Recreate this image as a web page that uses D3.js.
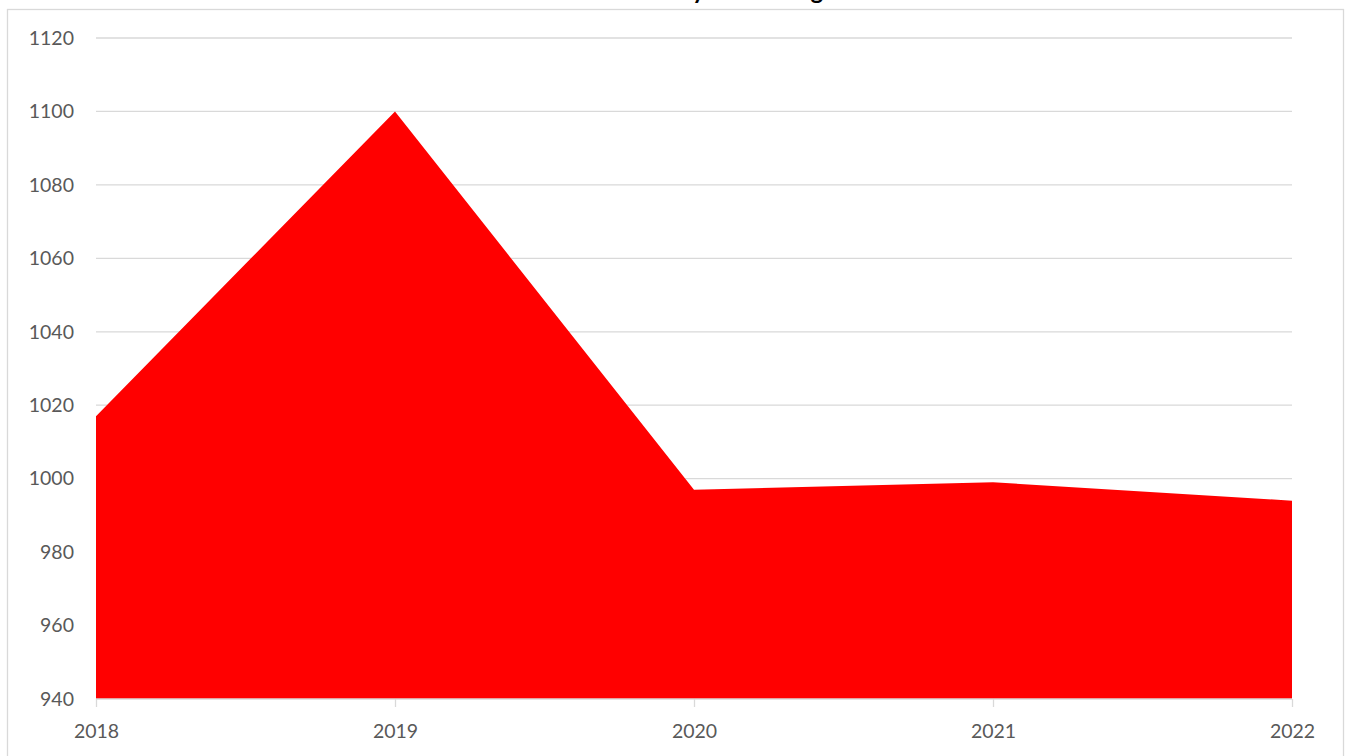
<!DOCTYPE html>
<html>
<head>
<meta charset="utf-8">
<script src="https://cdn.jsdelivr.net/npm/d3@7"></script>
<style>
  body { margin: 0; background: #fff; }
  svg { display: block; }
</style>
</head>
<body>
<div id="chart"></div>
<script>
// data
var years = ["2018", "2019", "2020", "2021", "2022"];
var values = [1017, 1100, 997, 999, 994];
var yTicks = [940, 960, 980, 1000, 1020, 1040, 1060, 1080, 1100, 1120];
var chartTitle = "Annual Electricity Bill Average";

var W = 1346, H = 756;
var plotLeft = 96, plotRight = 1292, plotTop = 38, plotBottom = 699;

var svg = d3.select("#chart").append("svg")
    .attr("width", W)
    .attr("height", H);

// chart frame
svg.append("rect")
    .attr("x", 7.5).attr("y", 9.5)
    .attr("width", 1336).attr("height", 760)
    .attr("fill", "none")
    .attr("stroke", "#d9d9d9")
    .attr("stroke-width", 1.3);

// title sits mostly above the frame, only descenders show
svg.append("text")
    .attr("x", 676).attr("y", -1.5)
    .attr("text-anchor", "middle")
    .attr("font-family", "Lato, 'Open Sans', sans-serif")
    .attr("font-weight", "bold")
    .attr("font-size", "24px")
    .attr("fill", "#000")
    .text(chartTitle);

var x = d3.scalePoint().domain(years).range([plotLeft, plotRight]);
var y = d3.scaleLinear().domain([940, 1120]).range([plotBottom, plotTop]);

// gridlines
svg.append("g").selectAll("line")
    .data(yTicks.filter(function(d) { return d !== 940; }))
    .enter().append("line")
    .attr("x1", plotLeft).attr("x2", plotRight)
    .attr("y1", function(d) { return y(d); })
    .attr("y2", function(d) { return y(d); })
    .attr("stroke", "#d9d9d9")
    .attr("stroke-width", 1.3);

// area
var area = d3.area()
    .x(function(d, i) { return x(years[i]); })
    .y0(y(940))
    .y1(function(d) { return y(d); });

svg.append("path")
    .datum(values)
    .attr("d", area)
    .attr("fill", "#ff0000");

// y axis labels
var yAxis = d3.axisLeft(y).tickValues(yTicks).tickFormat(d3.format("d"))
    .tickSize(0).tickPadding(22);
var gy = svg.append("g")
    .attr("transform", "translate(" + plotLeft + ",0)")
    .call(yAxis);
gy.select(".domain").remove();
gy.selectAll("text")
    .attr("font-family", "Lato, 'Open Sans', sans-serif")
    .attr("font-size", "19.5px")
    .attr("fill", "#595959");

// x axis
var xAxis = d3.axisBottom(x).tickSize(8).tickPadding(17);
var gx = svg.append("g")
    .attr("transform", "translate(0," + plotBottom + ")")
    .call(xAxis);
gx.select(".domain")
    .attr("d", "M" + plotLeft + ",0H" + plotRight)
    .attr("stroke", "#d9d9d9")
    .attr("stroke-width", 1.3);
gx.selectAll(".tick line")
    .attr("stroke", "#d9d9d9")
    .attr("stroke-width", 1.3);
gx.selectAll("text")
    .attr("font-family", "Lato, 'Open Sans', sans-serif")
    .attr("font-size", "19.5px")
    .attr("fill", "#595959");
</script>
</body>
</html>
